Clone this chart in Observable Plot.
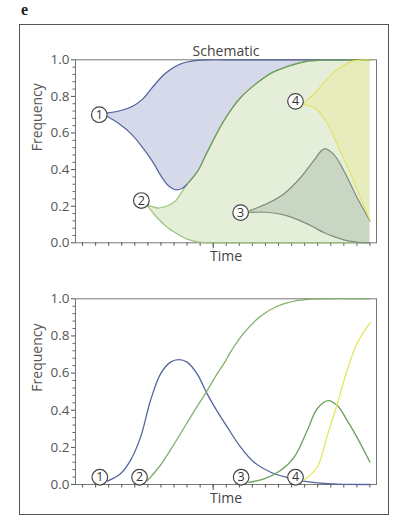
<!DOCTYPE html>
<html><head><meta charset="utf-8">
<script src="https://cdn.jsdelivr.net/npm/d3@7"></script>
<script src="https://cdn.jsdelivr.net/npm/@observablehq/plot@0.6"></script>
<style>
body{margin:0;background:#fff;width:395px;height:525px;position:relative;overflow:hidden;font-family:"Open Sans",sans-serif;}
#frame{position:absolute;left:18.5px;top:23.5px;width:368px;height:489px;border:1.5px solid #555;}
#lab{position:absolute;left:21px;top:1px;font:bold 16px "Liberation Serif",serif;color:#222;}
#top,#bot{position:absolute;left:0;}
#top{top:0;} #bot{top:270px;}
svg{overflow:visible;}
</style></head><body>
<div id="frame"></div><div id="lab">e</div>
<div id="top"></div><div id="bot"></div>
<script>
// ---- axis ticks ----
const xTicks = [0,1,2,3,4,5,6,7,8,9,10,11,12,13,14,15,16,17,18,19,20,21,22];
const xMajor = [10];
const yMajor = [0,0.2,0.4,0.6,0.8,1.0];
const yMinor = [0.04,0.08,0.12,0.16,0.24,0.28,0.32,0.36,0.44,0.48,0.52,0.56,0.64,0.68,0.72,0.76,0.84,0.88,0.92,0.96];

// ---- schematic (Muller) boundaries ----
const blueT  = [1.9, 2.8, 3.8, 4.6, 5.3, 6.1, 6.6, 7.1, 7.6, 8.0, 8.8, 9.5, 10.8, 12.1, 13.4, 14.5, 15.7, 16.9, 18.2, 19.5, 22];
const blueHi = [0.71,0.72,0.745,0.785,0.845,0.91,0.94,0.963,0.98,0.988,0.997,1,1,1,1,1,1,1,1,1,1];
const blueLo = [0.69,0.65,0.59,0.52,0.45,0.355,0.31,0.29,0.297,0.32,0.39,0.49,0.665,0.794,0.876,0.93,0.964,0.988,0.998,1,1];

const greenT  = [4.95, 5.8, 6.6, 7.1, 7.5, 8.0, 8.8, 9.5, 10.8, 12.1, 13.4, 14.5, 15.7, 16.9, 18.2, 19.5, 22];
const greenHi = [0.207,0.19,0.205,0.228,0.267,0.32,0.39,0.49,0.665,0.794,0.876,0.93,0.964,0.988,0.998,1,1];
const greenLo = [0.205,0.13,0.078,0.055,0.037,0.02,0.005,0,0,0,0,0,0,0,0,0,0];

const darkT  = [12.8, 14.1, 15.4, 16.7, 17.7, 18.5, 19.2, 20.0, 21.0, 22.0];
const darkHi = [0.176,0.213,0.267,0.358,0.449,0.513,0.486,0.394,0.249,0.12];
const darkLo = [0.166,0.167,0.153,0.12,0.085,0.055,0.035,0.016,0.004,0];

const yelT  = [16.9, 17.7, 18.5, 19.2, 19.6, 20.5, 21.3, 22.0];
const yelHi = [0.76,0.813,0.876,0.93,0.952,0.989,0.998,1.0];
const yelLo = [0.755,0.74,0.68,0.585,0.52,0.38,0.245,0.125];

const topCircT = [1.28, 4.5, 12.1, 16.3];
const topCircF = [0.70, 0.231, 0.165, 0.773];
const circLabels = ["1","2","3","4"];

// ---- frequency panel ----
const fBlueT = [1.9, 2.9, 3.67, 4.44, 5.2, 5.97, 6.73, 7.37, 8.0, 8.77, 9.54, 10.3, 11.07, 12.1, 13.1, 14.4, 15.7, 16.9, 18.2, 19.5, 22];
const fBlue  = [0.018,0.058,0.13,0.255,0.452,0.596,0.659,0.672,0.659,0.596,0.488,0.395,0.31,0.201,0.121,0.066,0.037,0.018,0.007,0.002,0];
const fGreenT = [4.95, 5.97, 7.25, 8.5, 9.54, 10.3, 10.9, 11.3, 12.34, 13.6, 14.9, 16.4, 18.2, 22];
const fGreen  = [0.02,0.105,0.245,0.39,0.506,0.596,0.66,0.71,0.815,0.905,0.96,0.99,1.0,1.0];
const fDarkT = [12.7, 13.9, 15.15, 16.2, 17.2, 17.96, 18.8, 19.5, 20.25, 21.0, 22.0];
const fDark  = [0.012,0.03,0.075,0.147,0.291,0.408,0.452,0.425,0.345,0.255,0.12];
const fYelT = [16.9, 17.96, 18.7, 19.5, 20.25, 21.0, 22.0];
const fYel  = [0.022,0.093,0.255,0.435,0.614,0.758,0.87];

const botCircT = [1.32, 4.36, 12.14, 16.3];
const botCircF = [0.039, 0.039, 0.039, 0.039];

// ---- colours ----
const C = {
  blueFill:"#d5d9ea", blueLine:"#55649f",
  greenFill:"#e4eed9", greenLine:"#9cc47e", greenDark:"#6f9c62",
  darkFill:"#c9d6c3", darkLine:"#7d8d7b",
  yelFill:"#e7ecbd", yelLine:"#e2e36a",
  fGreen:"#82b06a", fDark:"#6aa05c", fYel:"#e6e65c"
};

const zip = (t, a, b) => t.map((v,i)=>({t:v, hi:a[i], lo:b[i]}));
const blue = zip(blueT, blueHi, blueLo);
const green = zip(greenT, greenHi, greenLo);
const dark = zip(darkT, darkHi, darkLo);
const yel = zip(yelT, yelHi, yelLo);
const topCirc = topCircT.map((t,i)=>({t, f:topCircF[i], k:circLabels[i]}));
const botCirc = botCircT.map((t,i)=>({t, f:botCircF[i], k:circLabels[i]}));
const curve = "catmull-rom";

function axes(){
  return [
    Plot.frame({stroke:"#777", strokeWidth:1}),
    Plot.axisY(yMajor, {tickSize:4, tickPadding:2, tickFormat:d=>d.toFixed(1), label:null, fontSize:13.5, color:"#555", stroke:"#555"}),
    Plot.axisY(yMinor, {tickSize:2.5, tickFormat:()=>"", label:null, stroke:"#666"}),
    Plot.axisX(xTicks, {tickSize:3.5, tickFormat:()=>"", label:null, stroke:"#555"}),
    Plot.axisX(xMajor, {tickSize:6, tickFormat:()=>"", label:null, stroke:"#555"}),
    Plot.text(["Time"], {frameAnchor:"bottom", dy:14, fontSize:14, fill:"#444", lineAnchor:"middle"}),
    Plot.text(["Frequency"], {frameAnchor:"left", dx:-38, rotate:-90, fontSize:14, fill:"#555", lineAnchor:"middle"})
  ];
}
function circles(data){
  return [
    Plot.dot(data, {x:"t", y:"f", r:7.8, fill:"white", stroke:"#444", strokeWidth:1.2}),
    Plot.text(data, {x:"t", y:"f", text:"k", fontSize:12.5, fill:"#333", lineAnchor:"middle"})
  ];
}
const base = {width:395, marginLeft:75, marginRight:19, x:{domain:[-0.54,22.5]}, y:{domain:[0,1]},
  style:{fontFamily:"Open Sans", fontSize:"13px", color:"#555", background:"transparent", overflow:"visible"}};

const topPlot = Plot.plot({...base, height:270, marginTop:59.3, marginBottom:27.7,
  marks:[
    Plot.areaY(green, {x:"t", y1:"lo", y2:"hi", fill:C.greenFill, curve}),
    Plot.areaY(blue, {x:"t", y1:"lo", y2:"hi", fill:C.blueFill, curve}),
    Plot.areaY(dark, {x:"t", y1:"lo", y2:"hi", fill:C.darkFill, curve}),
    Plot.areaY(yel, {x:"t", y1:"lo", y2:"hi", fill:C.yelFill, curve}),
    ...axes(),
    Plot.line(green, {x:"t", y:"lo", stroke:C.greenLine, strokeWidth:1.2, curve}),
    Plot.line(green, {x:"t", y:"hi", stroke:C.greenLine, strokeWidth:1.2, curve}),
    Plot.line(blue, {x:"t", y:"hi", stroke:C.blueLine, strokeWidth:1.2, curve}),
    Plot.line(blue.filter(d=>d.t<=8.0), {x:"t", y:"lo", stroke:C.blueLine, strokeWidth:1.2, curve}),
    Plot.line(green.filter(d=>d.t>=8.0), {x:"t", y:"hi", stroke:C.greenDark, strokeWidth:1.3, curve}),
    Plot.line(dark, {x:"t", y:"hi", stroke:C.darkLine, strokeWidth:1.2, curve}),
    Plot.line(dark, {x:"t", y:"lo", stroke:C.darkLine, strokeWidth:1.2, curve}),
    Plot.line(yel, {x:"t", y:"hi", stroke:C.yelLine, strokeWidth:1.2, curve}),
    Plot.line(yel, {x:"t", y:"lo", stroke:C.yelLine, strokeWidth:1.2, curve}),
    Plot.text(["Schematic"], {frameAnchor:"top", dy:-8, fontSize:14, fill:"#444", lineAnchor:"middle"}),
    ...circles(topCirc)
  ]});
document.getElementById("top").append(topPlot);

const fb = fBlueT.map((t,i)=>({t, f:fBlue[i]}));
const fg = fGreenT.map((t,i)=>({t, f:fGreen[i]}));
const fd = fDarkT.map((t,i)=>({t, f:fDark[i]}));
const fy = fYelT.map((t,i)=>({t, f:fYel[i]}));
const botPlot = Plot.plot({...base, height:255, marginTop:28.3, marginBottom:41,
  marks:[
    ...axes(),
    Plot.line(fb, {x:"t", y:"f", stroke:C.blueLine, strokeWidth:1.3, curve}),
    Plot.line(fg, {x:"t", y:"f", stroke:C.fGreen, strokeWidth:1.3, curve}),
    Plot.line(fd, {x:"t", y:"f", stroke:C.fDark, strokeWidth:1.3, curve}),
    Plot.line(fy, {x:"t", y:"f", stroke:C.fYel, strokeWidth:1.3, curve}),
    ...circles(botCirc)
  ]});
document.getElementById("bot").append(botPlot);
</script>
</body></html>
